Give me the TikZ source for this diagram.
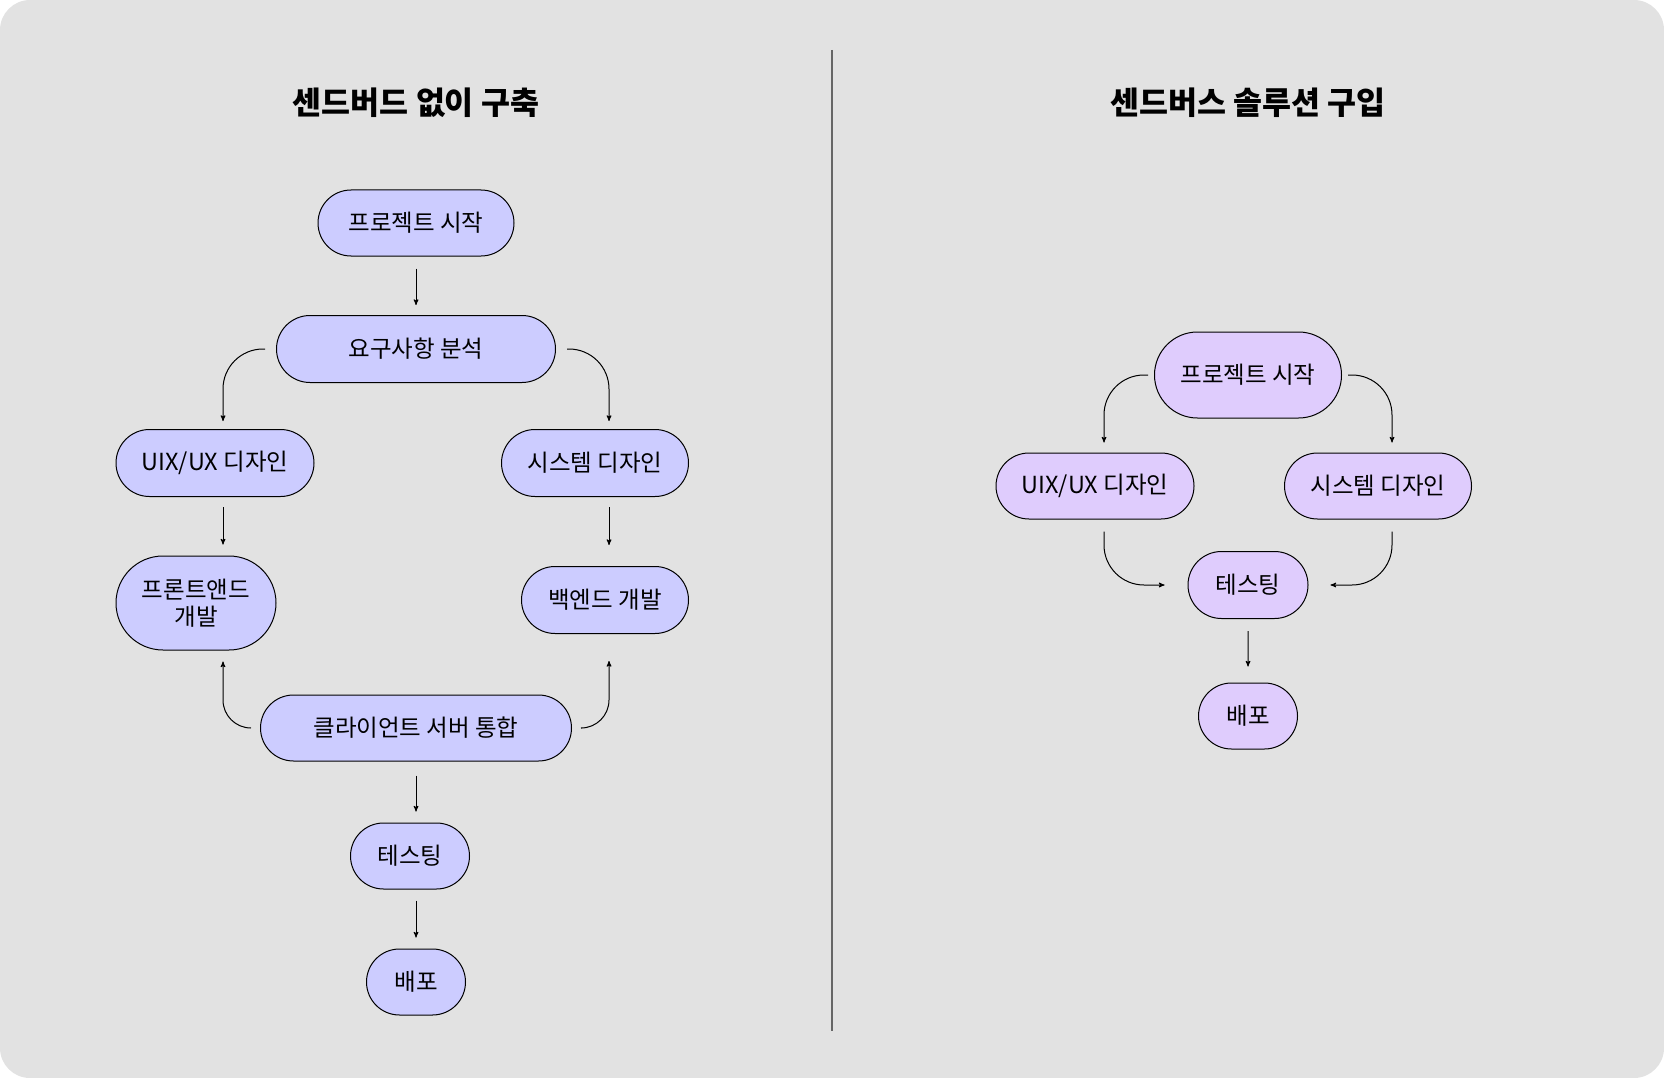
\documentclass[tikz,border=0pt]{standalone}
\usepackage{fontspec}
\setmainfont{Noto Sans CJK KR}
\usetikzlibrary{shapes}
\usetikzlibrary{arrows}
\definecolor{bggray}{HTML}{E2E2E2}
\definecolor{lavblue}{HTML}{CCCCFF}
\definecolor{lavpurple}{HTML}{DFCCFD}
\definecolor{divgray}{HTML}{666666}
\tikzset{
	stepnode/.style = {
		rounded rectangle,
		align=center,
		inner sep=0pt,
		text centered,
		draw=black,
		line width=1pt,
		font=\fontsize{23.5}{26.5}\selectfont,
		minimum height=66pt
	},
	node_l/.style = {
		stepnode,
		fill=lavblue
	},
	node_r/.style = {
		stepnode,
		fill=lavpurple
	},
	title/.style = {
		font=\fontsize{31.5}{36}\selectfont\bfseries
	},
	link/.style = {
		->,
		rounded corners=40pt,
		line width=1pt
	},
}

\begin{document}
\begin{tikzpicture}[x=1pt, y=-1pt, >=stealth']
\useasboundingbox (0,0) rectangle (1664,1078);
\fill [bggray, rounded corners=30pt] (0,0) rectangle (1664,1078);
\draw [divgray, line width=1.5pt] (832,50) -- (832,1031);

% titles
\node [title] (title_l) at (416,103) {센드버드 없이 구축};
\node [title] (title_r) at (1248,103) {센드버스 솔루션 구입};

% left flow
\node [node_l, minimum width=196pt] (start_l) at (416,223) {프로젝트 시작};
\node [node_l, minimum width=279pt, minimum height=67pt] (req_l) at (416,349) {요구사항 분석};
\node [node_l, minimum width=198pt, minimum height=67pt] (uix_l) at (215,463) {UIX/UX 디자인};
\node [node_l, minimum width=187pt, minimum height=67pt] (sys_l) at (595,463) {시스템 디자인};
\node [node_l, minimum width=160pt, minimum height=94pt] (front_l) at (196,603) {프론트앤드\\개발};
\node [node_l, minimum width=167pt, minimum height=67pt] (back_l) at (605,600) {백엔드 개발};
\node [node_l, minimum width=311pt] (merge_l) at (416,728) {클라이언트 서버 통합};
\node [node_l, minimum width=119pt] (test_l) at (410,856) {테스팅};
\node [node_l, minimum width=99pt] (deploy_l) at (416,982) {배포};

\draw [link, shorten <=12pt, shorten >=10pt] (start_l) -- (req_l);
\draw [link, shorten <=11pt, shorten >=8pt] (req_l.west) -| ([xshift=8pt]uix_l.north);
\draw [link, shorten <=11pt, shorten >=8pt] (req_l.east) -| ([xshift=14pt]sys_l.north);
\draw [link, shorten <=10pt, shorten >=11pt] ([xshift=8pt]uix_l.south) -- ([xshift=27pt]front_l.north);
\draw [link, shorten <=10pt, shorten >=21pt] ([xshift=14pt]sys_l.south) -- ([xshift=4pt]back_l.north);
\draw [link, rounded corners=28pt, shorten <=9pt, shorten >=11pt] (merge_l.west) -| ([xshift=27pt]front_l.south);
\draw [link, rounded corners=28pt, shorten <=10pt, shorten >=27pt] (merge_l.east) -| ([xshift=4pt]back_l.south);
\draw [link, shorten <=14pt, shorten >=11pt] (merge_l.south) -- (merge_l.south |- test_l.north);
\draw [link, shorten <=11pt, shorten >=11pt] ([xshift=6pt]test_l.south) -- (deploy_l.north);

% right flow
\node [node_r, minimum width=187pt, minimum height=86pt] (start_r) at (1248,375) {프로젝트 시작};
\node [node_r, minimum width=198pt] (uix_r) at (1095,486) {UIX/UX 디자인};
\node [node_r, minimum width=187pt] (sys_r) at (1378,486) {시스템 디자인};
\node [node_r, minimum width=120pt, minimum height=67pt] (test_r) at (1248,585) {테스팅};
\node [node_r, minimum width=99pt] (deploy_r) at (1248,716) {배포};

\draw [link, shorten <=6pt, shorten >=10pt] (start_r.west) -| ([xshift=9pt]uix_r.north);
\draw [link, shorten <=6pt, shorten >=10pt] (start_r.east) -| ([xshift=14pt]sys_r.north);
\draw [link, shorten <=12pt, shorten >=23pt] ([xshift=9pt]uix_r.south) |- (test_r.west);
\draw [link, shorten <=12pt, shorten >=22pt] ([xshift=14pt]sys_r.south) |- (test_r.east);
\draw [link, shorten <=12pt, shorten >=16pt] (test_r) -- (deploy_r);
\end{tikzpicture}
\end{document}
